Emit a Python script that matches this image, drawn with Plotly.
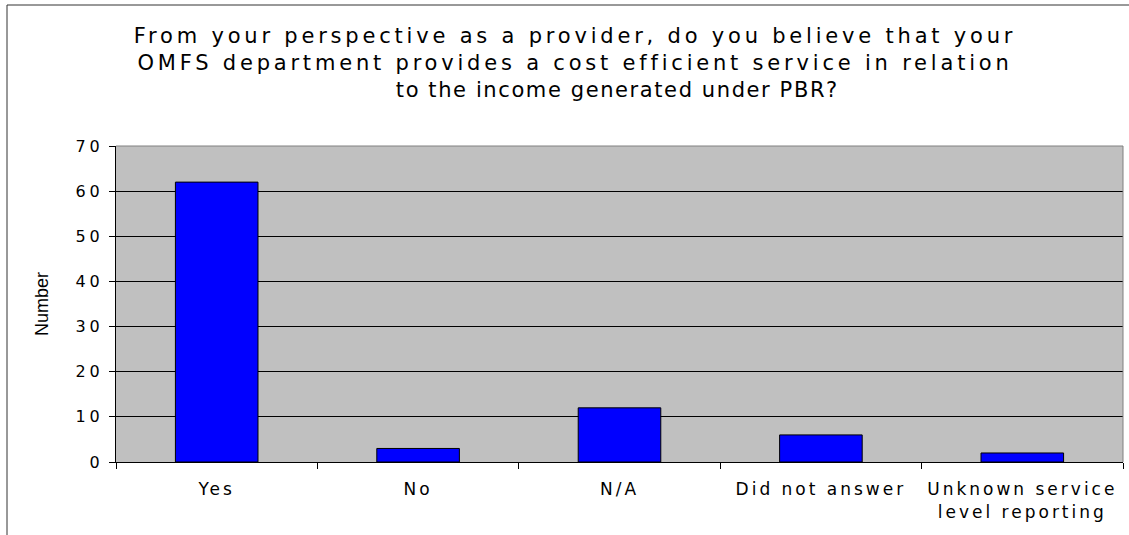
import plotly.graph_objects as go

categories = ["Yes", "No", "N/A", "Did not answer", "Unknown service<br>level reporting"]
values = [62, 3, 12, 6, 2]
y_ticks = [0, 10, 20, 30, 40, 50, 60, 70]

title_lines_12 = ("From your perspective as a provider, do you believe that your<br>"
                  "OMFS department provides a cost efficient service in relation")
title_line_3 = "to the income generated under PBR?"

W, H = 1129, 535
L, R, T, B = 116, 6, 146, 73
pw = W - L - R
ph = H - T - B

def px_x(px):
    return (px - L) / pw

def px_y(py):
    return (H - B - py) / ph

fig = go.Figure()
fig.add_trace(go.Bar(
    x=categories, y=values,
    marker=dict(color="#0000FF", line=dict(color="#000000", width=1)),
    width=0.41,
))

font_main = "DejaVu Sans"

fig.update_layout(
    width=W, height=H,
    margin=dict(l=L, r=R, t=T, b=B),
    paper_bgcolor="#FFFFFF",
    plot_bgcolor="#C0C0C0",
    showlegend=False,
    title=dict(
        text=title_lines_12,
        x=575 / W, xanchor="center", xref="container",
        y=1 - 43 / H, yanchor="top", yref="container",
        font=dict(family=font_main, size=21, color="#000000"),
    ),
    xaxis=dict(
        type="category",
        showline=True, linecolor="#000000", linewidth=1,
        ticks="outside", tickson="boundaries", ticklen=6, tickcolor="#000000",
        tickfont=dict(family=font_main, size=17, color="#000000"),
        ticklabelstandoff=12,
        showgrid=False,
        range=[-0.5, 4.5],
    ),
    yaxis=dict(
        range=[0, 70], tickvals=y_ticks,
        showline=True, linecolor="#000000", linewidth=1,
        ticks="outside", ticklen=6, tickcolor="#000000",
        tickfont=dict(family=font_main, size=16, color="#000000"),
        ticklabelstandoff=2,
        showgrid=True, gridcolor="#000000", gridwidth=1,
        zeroline=False,
        title=dict(text="Number", font=dict(family="Liberation Sans", size=18, color="#000000"), standoff=30),
    ),
    annotations=[
        dict(text=title_line_3, xref="paper", yref="paper",
             x=px_x(617), y=px_y(90), xanchor="center", yanchor="middle",
             showarrow=False, font=dict(family=font_main, size=21, color="#000000")),
    ],
    shapes=[
        # chart area border
        dict(type="rect", xref="paper", yref="paper",
             x0=px_x(7), x1=px_x(1200), y0=px_y(600), y1=px_y(5),
             line=dict(color="#333333", width=1), layer="below"),
        # plot area top/right border
        dict(type="line", xref="paper", yref="paper", x0=0, x1=1, y0=1, y1=1,
             line=dict(color="#808080", width=1), layer="above"),
        dict(type="line", xref="paper", yref="paper", x0=1, x1=1, y0=0, y1=1,
             line=dict(color="#808080", width=1), layer="above"),
    ],
)

post = """
document.body.style.margin = '0';
var s = document.createElement('style');
s.innerHTML = '.xtick text {letter-spacing: 3px;} .ytick text {letter-spacing: 4px;} .gtitle {letter-spacing: 3.8px;} .annotation-text {letter-spacing: 1.6px;}';
document.head.appendChild(s);
"""

fig.write_html("out.html", post_script=post, config={"displayModeBar": False})
